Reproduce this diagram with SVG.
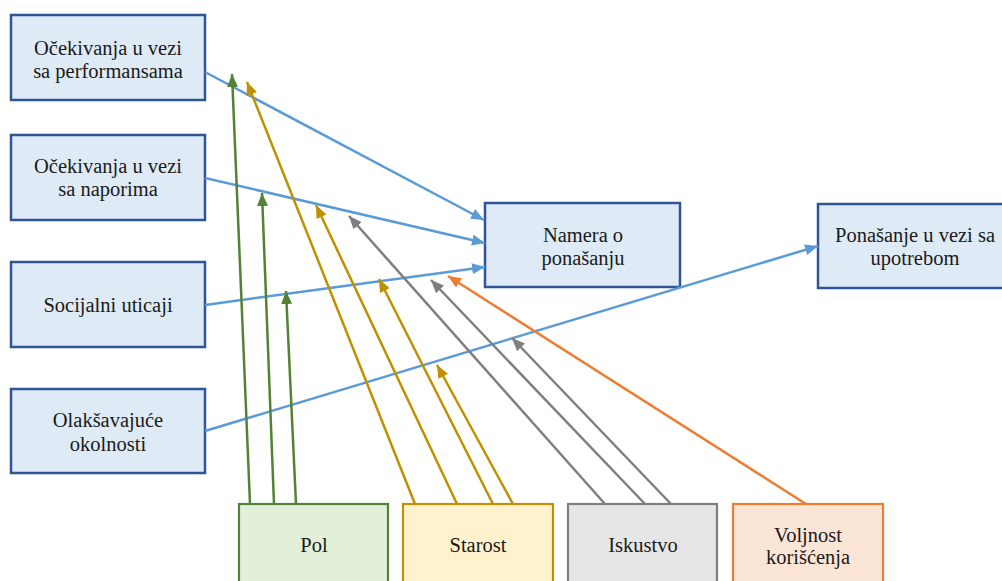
<svg xmlns="http://www.w3.org/2000/svg" width="1002" height="581" viewBox="0 0 1002 581">
<style>
.t{font-family:"Liberation Serif","DejaVu Serif","Times New Roman",Times,serif;font-size:20.5px;fill:#1a1a1a;text-anchor:middle}
.bx{fill:#DEEBF7;stroke:#2F5597;stroke-width:2.5}
.pol{fill:#E2F0D9;stroke:#538135;stroke-width:2.2}
.sta{fill:#FFF2CC;stroke:#BF9000;stroke-width:2.2}
.isk{fill:#E6E6E6;stroke:#7F7F7F;stroke-width:2.2}
.vol{fill:#FBE5D6;stroke:#ED7D31;stroke-width:2.2}
.c{fill:none;stroke-width:2.5}
.cb{stroke:#5B9BD5;marker-end:url(#ab)}
.cg{stroke:#548235;marker-end:url(#ag)}
.cy{stroke:#BF9000;marker-end:url(#ay)}
.cr{stroke:#7F7F7F;marker-end:url(#ar)}
.co{stroke:#ED7D31;marker-end:url(#ao)}
</style>
<defs>
<marker id="ab" markerUnits="userSpaceOnUse" markerWidth="13" markerHeight="11" viewBox="0 0 13 11" refX="13" refY="5.5" orient="auto"><path d="M0,0 L13,5.5 L0,11 z" fill="#5B9BD5"/></marker>
<marker id="ag" markerUnits="userSpaceOnUse" markerWidth="13" markerHeight="11" viewBox="0 0 13 11" refX="13" refY="5.5" orient="auto"><path d="M0,0 L13,5.5 L0,11 z" fill="#548235"/></marker>
<marker id="ay" markerUnits="userSpaceOnUse" markerWidth="13" markerHeight="11" viewBox="0 0 13 11" refX="13" refY="5.5" orient="auto"><path d="M0,0 L13,5.5 L0,11 z" fill="#BF9000"/></marker>
<marker id="ar" markerUnits="userSpaceOnUse" markerWidth="13" markerHeight="11" viewBox="0 0 13 11" refX="13" refY="5.5" orient="auto"><path d="M0,0 L13,5.5 L0,11 z" fill="#7F7F7F"/></marker>
<marker id="ao" markerUnits="userSpaceOnUse" markerWidth="13" markerHeight="11" viewBox="0 0 13 11" refX="13" refY="5.5" orient="auto"><path d="M0,0 L13,5.5 L0,11 z" fill="#ED7D31"/></marker>
</defs>
<rect width="1002" height="581" fill="#ffffff"/>
<g id="nodes">
<g id="n1"><rect class="bx" x="11" y="15" width="194" height="85"/><text class="t" x="108" y="55" font-family="Liberation Serif">Očekivanja u vezi</text><text class="t" x="108" y="78" font-family="Liberation Serif">sa performansama</text></g>
<g id="n2"><rect class="bx" x="11" y="135" width="194" height="85"/><text class="t" x="108" y="173" font-family="Liberation Serif">Očekivanja u vezi</text><text class="t" x="108" y="196" font-family="Liberation Serif">sa naporima</text></g>
<g id="n3"><rect class="bx" x="11" y="262" width="194" height="85"/><text class="t" x="108" y="312" font-family="Liberation Serif">Socijalni uticaji</text></g>
<g id="n4"><rect class="bx" x="11" y="389" width="194" height="84"/><text class="t" x="108" y="427" font-family="Liberation Serif">Olakšavajuće</text><text class="t" x="108" y="451" font-family="Liberation Serif">okolnosti</text></g>
<g id="n5"><rect class="bx" x="485" y="203" width="195" height="84"/><text class="t" x="583" y="242" font-family="Liberation Serif">Namera o</text><text class="t" x="583" y="265" font-family="Liberation Serif">ponašanju</text></g>
<g id="n6"><rect class="bx" x="818" y="204" width="195" height="84"/><text class="t" x="915" y="242" font-family="Liberation Serif">Ponašanje u vezi sa</text><text class="t" x="915" y="265" font-family="Liberation Serif">upotrebom</text></g>
<g id="n7"><rect class="pol" x="239" y="504" width="149" height="86"/><text class="t" x="314" y="552" font-family="Liberation Serif">Pol</text></g>
<g id="n8"><rect class="sta" x="403" y="504" width="150" height="86"/><text class="t" x="478" y="552" font-family="Liberation Serif">Starost</text></g>
<g id="n9"><rect class="isk" x="568" y="504" width="149" height="86"/><text class="t" x="643" y="552" font-family="Liberation Serif">Iskustvo</text></g>
<g id="n10"><rect class="vol" x="733" y="504" width="150" height="86"/><text class="t" x="808" y="542" font-family="Liberation Serif">Voljnost</text><text class="t" x="808" y="564" font-family="Liberation Serif">korišćenja</text></g>
</g>
<g id="connectors">
<path class="c cb" d="M205,72 L484,220"/>
<path class="c cb" d="M205,178 L485,243"/>
<path class="c cb" d="M205,305 L485,267"/>
<path class="c cb" d="M205,431 L818,246"/>
<path class="c cg" d="M250,504 L232,74"/>
<path class="c cg" d="M274,504 L262,193"/>
<path class="c cg" d="M296,504 L286,291"/>
<path class="c cy" d="M415,504 L247,82"/>
<path class="c cy" d="M457,504 L316,205"/>
<path class="c cy" d="M493,504 L379,279"/>
<path class="c cy" d="M513,504 L437,365"/>
<path class="c cr" d="M605,504 L349,216"/>
<path class="c cr" d="M645,504 L431,280"/>
<path class="c cr" d="M671,504 L512,338"/>
<path class="c co" d="M806,504 L448,276"/>
</g>
</svg>
